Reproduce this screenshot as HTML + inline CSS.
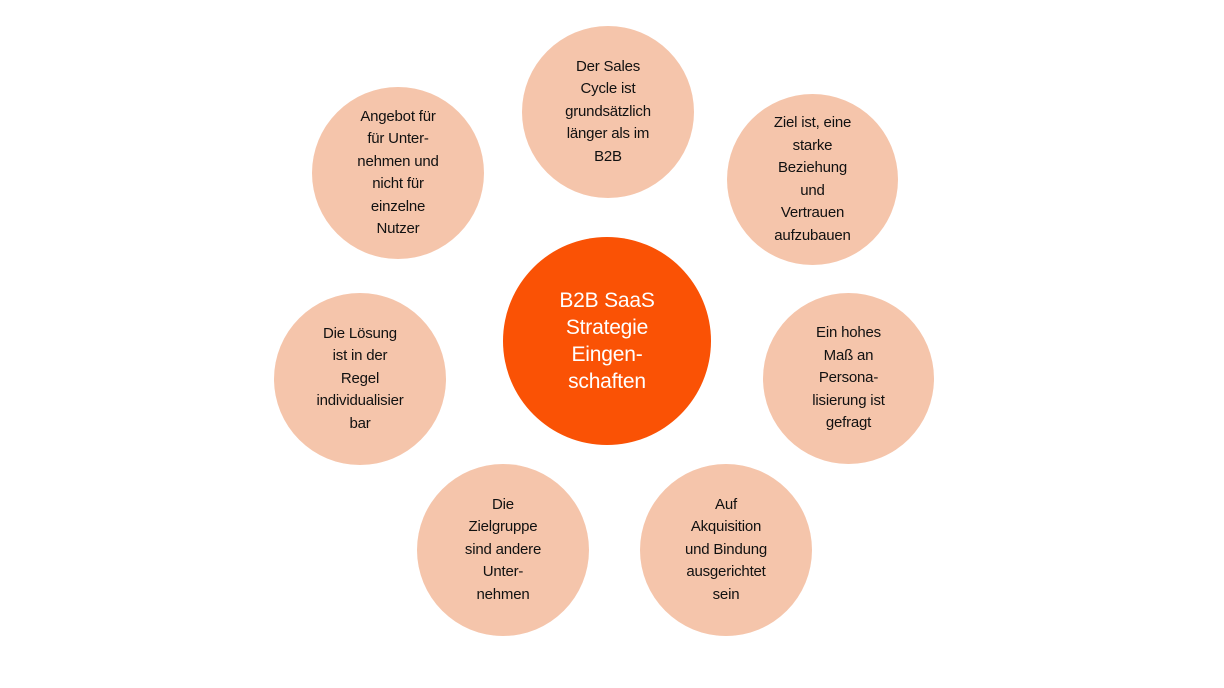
<!DOCTYPE html>
<html><head><meta charset="utf-8"><style>
body{margin:0;width:1224px;height:688px;background:#fff;position:relative;overflow:hidden;font-family:"Liberation Sans",sans-serif}
.c{position:absolute;border-radius:50%;background:#f5c5ab;display:flex;align-items:center;justify-content:center;text-align:center;color:#111;font-size:15px;line-height:22.5px;letter-spacing:-0.2px}
.m{background:#fa5205;color:#fff;font-size:21px;line-height:27px}
</style></head><body>
<div class="c m" style="left:503px;top:237px;width:208px;height:208px">B2B SaaS<br>Strategie<br>Eingen-<br>schaften</div>
<div class="c" style="left:522px;top:26px;width:172px;height:172px">Der Sales<br>Cycle ist<br>grundsätzlich<br>länger als im<br>B2B</div>
<div class="c" style="left:727px;top:94px;width:171px;height:171px">Ziel ist, eine<br>starke<br>Beziehung<br>und<br>Vertrauen<br>aufzubauen</div>
<div class="c" style="left:763px;top:293px;width:171px;height:171px">Ein hohes<br>Maß an<br>Persona-<br>lisierung ist<br>gefragt</div>
<div class="c" style="left:640px;top:464px;width:172px;height:172px">Auf<br>Akquisition<br>und Bindung<br>ausgerichtet<br>sein</div>
<div class="c" style="left:417px;top:464px;width:172px;height:172px">Die<br>Zielgruppe<br>sind andere<br>Unter-<br>nehmen</div>
<div class="c" style="left:274px;top:293px;width:172px;height:172px">Die Lösung<br>ist in der<br>Regel<br>individualisier<br>bar</div>
<div class="c" style="left:312px;top:87px;width:172px;height:172px">Angebot für<br>für Unter-<br>nehmen und<br>nicht für<br>einzelne<br>Nutzer</div>
</body></html>
